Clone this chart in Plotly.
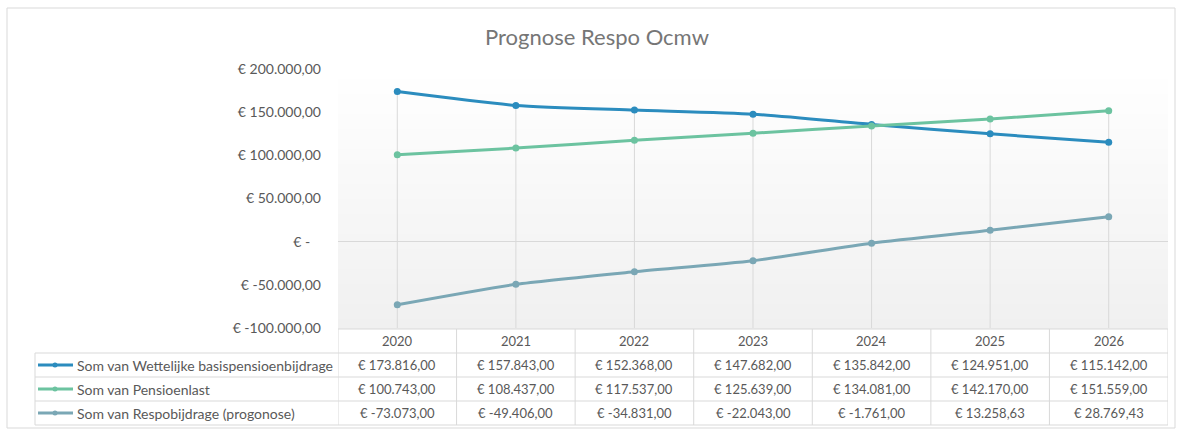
import plotly.graph_objects as go

years = ["2020", "2021", "2022", "2023", "2024", "2025", "2026"]
series_names = [
    "Som van Wettelijke basispensioenbijdrage",
    "Som van Pensioenlast",
    "Som van Respobijdrage (progonose)",
]
wettelijke = [173816.00, 157843.00, 152368.00, 147682.00, 135842.00, 124951.00, 115142.00]
pensioenlast = [100743.00, 108437.00, 117537.00, 125639.00, 134081.00, 142170.00, 151559.00]
respo = [-73073.00, -49406.00, -34831.00, -22043.00, -1761.00, 13258.63, 28769.43]
colors = ["#2b8cbe", "#6cc3a0", "#7aa7b5"]
y_ticks = [200000, 150000, 100000, 50000, 0, -50000, -100000]
title_text = "Prognose Respo Ocmw"

W, H = 1182, 430
TXT = "#595959"
GRID = "#d9d9d9"
FONT = "Lato, 'Open Sans', sans-serif"


def px(x):
    return x / W


def py(y):
    return 1 - y / H


def eur(v):
    if v == 0:
        return "€ -   "
    s = f"{abs(v):,.2f}".replace(",", "X").replace(".", ",").replace("X", ".")
    return "€ " + ("-" if v < 0 else "") + s


all_series = [wettelijke, pensioenlast, respo]
n = len(years)

fig = go.Figure()
for name, vals, c in zip(series_names, all_series, colors):
    fig.add_trace(go.Scatter(
        x=list(range(n)), y=vals, name=name, mode="lines+markers",
        line=dict(color=c, width=3, shape="spline", smoothing=0.6),
        marker=dict(color=c, size=7), showlegend=False,
        hovertemplate="%{y}<extra>" + name + "</extra>",
    ))

shapes = []
# gradient background of plot area
top_px, bot_px = 69, 329
steps = 52
for i in range(steps):
    y0 = top_px + (bot_px - top_px) * i / steps
    y1 = top_px + (bot_px - top_px) * (i + 1) / steps
    t = (i + 0.5) / steps
    g = int(round(255 - t * 15))
    shapes.append(dict(type="rect", xref="x", yref="paper", x0=-0.5, x1=n - 0.5,
                       y0=py(y1), y1=py(y0), line=dict(width=0),
                       fillcolor=f"rgb({g},{g},{g})", layer="below"))

# drop lines
for i in range(n):
    top = max(s[i] for s in all_series)
    shapes.append(dict(type="line", xref="x", yref="y", x0=i, x1=i, y0=top, y1=y_ticks[-1],
                       line=dict(color=GRID, width=1), layer="below"))

# chart border
shapes.append(dict(type="rect", xref="paper", yref="paper", x0=px(7), x1=px(1175),
                   y0=py(428), y1=py(8), line=dict(color=GRID, width=1)))

# data table
row_tops = [329, 353, 377, 401, 425]
left_px = 35
shapes.append(dict(type="rect", xref="x", yref="paper", x0=-0.5, x1=n - 0.5,
                   y0=py(row_tops[1]), y1=py(row_tops[0]), line=dict(width=0), fillcolor="white"))
shapes.append(dict(type="line", xref="x", yref="paper", x0=-0.5, x1=n - 0.5,
                   y0=py(row_tops[0]), y1=py(row_tops[0]), line=dict(color=GRID, width=1)))
for r in row_tops[1:]:
    shapes.append(dict(type="line", xref="paper", yref="paper", x0=px(left_px), x1=px(1168),
                       y0=py(r), y1=py(r), line=dict(color=GRID, width=1)))
shapes.append(dict(type="line", xref="paper", yref="paper", x0=px(left_px), x1=px(left_px),
                   y0=py(row_tops[1]), y1=py(row_tops[-1]), line=dict(color=GRID, width=1)))
for i in range(n + 1):
    shapes.append(dict(type="line", xref="x", yref="paper", x0=i - 0.5, x1=i - 0.5,
                       y0=py(row_tops[0]), y1=py(row_tops[-1]), line=dict(color=GRID, width=1)))

annotations = []
for i, yr in enumerate(years):
    annotations.append(dict(x=i, xref="x", y=py((row_tops[0] + row_tops[1]) / 2), yref="paper",
                            yanchor="middle", text=yr, showarrow=False,
                            font=dict(size=13, color=TXT, family=FONT)))
for k, (name, vals, c) in enumerate(zip(series_names, all_series, colors)):
    yc = (row_tops[k + 1] + row_tops[k + 2]) / 2
    for i, v in enumerate(vals):
        annotations.append(dict(x=i, xref="x", y=py(yc), yref="paper", yanchor="middle",
                                text=eur(v), showarrow=False,
                                font=dict(size=13, color=TXT, family=FONT)))
    shapes.append(dict(type="line", xref="paper", yref="paper", x0=px(38), x1=px(73),
                       y0=py(yc), y1=py(yc), line=dict(color=c, width=3)))
    shapes.append(dict(type="circle", xref="paper", yref="paper", x0=px(52.5), x1=px(57.5),
                       y0=py(yc + 2.5), y1=py(yc - 2.5), line=dict(width=0), fillcolor=c))
    annotations.append(dict(x=px(75), xref="paper", y=py(yc), yref="paper", text=name,
                            xanchor="left", yanchor="middle", showarrow=False,
                            font=dict(size=14, color=TXT, family=FONT)))

fig.update_layout(
    width=W, height=H, margin=dict(l=0, r=0, t=0, b=0, pad=0, autoexpand=False),
    paper_bgcolor="white", plot_bgcolor="rgba(0,0,0,0)",
    font=dict(family=FONT, color=TXT, size=13),
    title=dict(text=title_text, x=px(597), xanchor="center", y=py(37), yanchor="middle",
               automargin=False,
               font=dict(size=22, color="#767676", family=FONT)),
    xaxis=dict(domain=[px(338), px(1168)], range=[-0.5, n - 0.5], showticklabels=False,
               showgrid=False, zeroline=False, showline=False, ticks="", automargin=False),
    yaxis=dict(domain=[py(328), py(69)], range=[y_ticks[-1], y_ticks[0]],
               tickvals=y_ticks, ticktext=[eur(v) for v in y_ticks], automargin=False,
               showgrid=False, zeroline=True, zerolinecolor=GRID, zerolinewidth=1,
               showline=False, ticks="", ticklabelstandoff=16,
               tickfont=dict(size=14, color=TXT, family=FONT)),
    shapes=shapes, annotations=annotations,
)

fig.write_html("out.html", config={"displayModeBar": False},
               post_script="document.body.style.margin='0';document.body.style.overflow='hidden';")
